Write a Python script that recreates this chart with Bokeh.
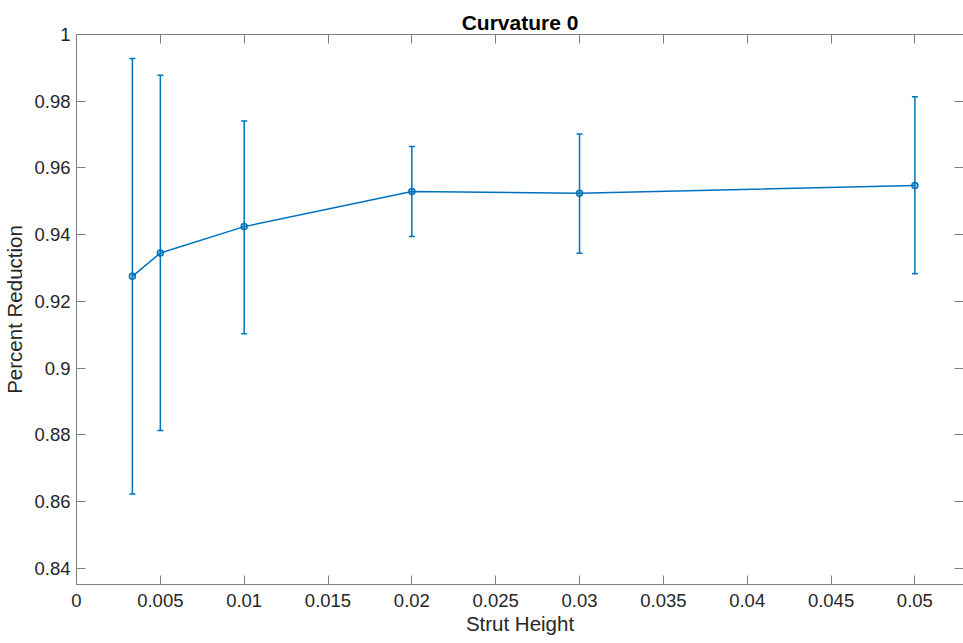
from bokeh.plotting import figure
from bokeh.models import LinearAxis, FixedTicker, Whisker, TeeHead, ColumnDataSource, Range1d
from bokeh.embed import file_html
from bokeh.resources import INLINE

# ---- data ----
strut_height = [1/300, 0.005, 0.01, 0.02, 0.03, 0.05]
reduction = [0.9275, 0.9345, 0.9424, 0.9529, 0.9524, 0.9547]
err_upper = [0.9928, 0.9878, 0.9741, 0.9664, 0.9702, 0.9813]
err_lower = [0.8622, 0.8813, 0.9103, 0.9394, 0.9344, 0.9283]

x_ticks = [0, 0.005, 0.01, 0.015, 0.02, 0.025, 0.03, 0.035, 0.04, 0.045, 0.05]
x_tick_labels = ["0", "0.005", "0.01", "0.015", "0.02", "0.025", "0.03", "0.035", "0.04", "0.045", "0.05"]
y_ticks = [0.84, 0.86, 0.88, 0.9, 0.92, 0.94, 0.96, 0.98, 1.0]
y_tick_labels = ["0.84", "0.86", "0.88", "0.9", "0.92", "0.94", "0.96", "0.98", "1"]

title_text = "Curvature 0"
x_label = "Strut Height"
y_label = "Percent Reduction"

BLUE = "#0072BD"
TXT = "#262626"
AX = "#808080"
FONT = "Liberation Sans"

src = ColumnDataSource(dict(x=strut_height, y=reduction, upper=err_upper, lower=err_lower))

p = figure(width=963, height=643, output_backend="svg", toolbar_location=None,
           x_range=Range1d(0, 0.0529), y_range=Range1d(0.8351, 1.0),
           min_border_left=76, min_border_right=0, min_border_top=34, min_border_bottom=59)
p.xgrid.visible = False
p.ygrid.visible = False
p.outline_line_color = None
p.background_fill_color = "white"
p.border_fill_color = "white"

p.title.text = title_text
p.title.align = "center"
p.title.text_font = FONT
p.title.text_font_size = "21px"
p.title.text_font_style = "bold"
p.title.text_color = "black"
p.title.standoff = 2
p.title.offset = 0

def style_axis(ax, ticks, labels, show_labels=True):
    ax.ticker = FixedTicker(ticks=ticks)
    ax.axis_line_color = AX
    ax.axis_line_width = 1
    ax.major_tick_line_color = AX
    ax.major_tick_in = 9
    ax.major_tick_out = 0
    ax.minor_tick_line_color = None
    ax.major_label_text_font = FONT
    ax.axis_label_text_font = FONT
    ax.axis_label_text_color = TXT
    ax.axis_label_text_font_style = "normal"
    if show_labels:
        ax.major_label_overrides = {t: l for t, l in zip(ticks, labels)}
        ax.major_label_text_color = TXT
        ax.major_label_text_font_size = "18.5px"
        ax.axis_label_text_font_size = "20.5px"
    else:
        ax.major_label_text_color = None
        ax.major_label_text_font_size = "1px"
        ax.major_label_standoff = 0

xa = p.xaxis[0]
style_axis(xa, x_ticks, x_tick_labels)
xa.axis_label = x_label
xa.major_label_standoff = 9
xa.axis_label_standoff = 2

ya = p.yaxis[0]
style_axis(ya, y_ticks, y_tick_labels)
ya.axis_label = y_label
ya.major_label_standoff = 6
ya.axis_label_standoff = 5

top = LinearAxis()
style_axis(top, x_ticks, x_tick_labels, show_labels=False)
p.add_layout(top, "above")
right = LinearAxis()
style_axis(right, y_ticks, y_tick_labels, show_labels=False)
p.add_layout(right, "right")

w = Whisker(source=src, base="x", upper="upper", lower="lower", dimension="height",
            line_color=BLUE, line_width=1.5,
            upper_head=TeeHead(size=6, line_color=BLUE, line_width=1.5),
            lower_head=TeeHead(size=6, line_color=BLUE, line_width=1.5))
p.add_layout(w)

p.line("x", "y", source=src, line_color=BLUE, line_width=1.5)
p.scatter("x", "y", source=src, marker="circle", size=6, line_color=BLUE,
          line_width=1.5, fill_color=BLUE, fill_alpha=0.3)

open("out.html", "w").write(file_html(p, INLINE))
